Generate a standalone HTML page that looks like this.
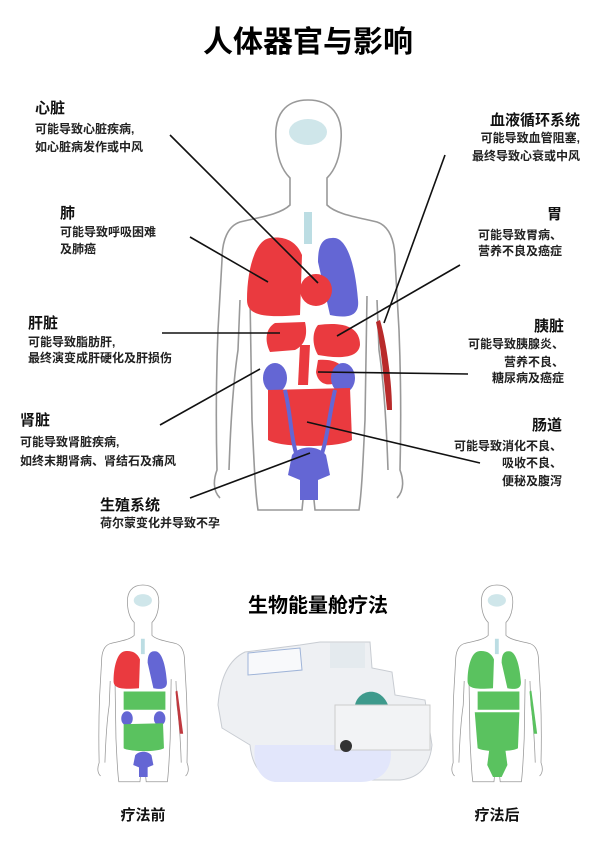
<!DOCTYPE html>
<html><head><meta charset="utf-8"><style>
html,body{margin:0;padding:0;background:#fff;}
svg{display:block;font-family:"Liberation Sans","Noto Sans CJK SC",sans-serif;}
.t{font-size:15px;font-weight:bold;fill:#111;}
.s{font-size:12px;font-weight:bold;fill:#222;}
.ln{stroke:#111;stroke-width:1.6;fill:none;}
</style></head><body>
<svg width="600" height="863" viewBox="0 0 600 863" xmlns="http://www.w3.org/2000/svg">
<defs>
<g id="body">
<path d="M308,100 C285,100 274,115 276,140 C277,158 282,170 290,178 L290,205 C280,215 255,218 240,222 C228,226 222,240 222,260 L218,330 C216,380 216,430 217,470 C214,478 212,490 220,498 M229,470 C230,440 232,390 238,350 L240,300 M250,296 L252,420 C254,460 255,490 258,510 L302,510 L306,470 M308,100 C331,100 343,115 341,140 C340,158 335,170 327,178 L327,205 C337,215 362,218 377,222 C389,226 395,240 395,260 L399,330 C401,380 401,430 400,470 C403,478 405,490 397,498 M388,470 C387,440 385,390 379,350 L377,300 M367,296 L365,420 C363,460 362,490 359,510 L315,510 L311,470" fill="none" stroke="#999" stroke-width="1.6"/>
<ellipse cx="308" cy="132" rx="19" ry="13" fill="#cfe6ea"/>
<rect x="304" y="212" width="8" height="32" fill="#bcdde3"/>
</g>
</defs>
<text x="308" y="52" text-anchor="middle" style="font-size:30px;font-weight:bold;fill:#000">人体器官与影响</text>
<use href="#body"/>
<path d="M270,238 C255,240 247,270 247,300 C247,316 265,318 300,315 L302,255 C296,240 283,236 270,238Z" fill="#ea3a3f"/>
<path d="M332,238 C346,236 355,262 358,300 C360,318 345,318 330,315 L318,262 C318,246 322,238 332,238Z" fill="#6466d4"/>
<circle cx="316" cy="290" r="16" fill="#ea3a3f"/>
<path d="M275,323 L305,322 C308,335 305,345 295,350 L270,352 C264,340 266,328 275,323Z" fill="#ea3a3f"/>
<path d="M318,325 C340,322 360,325 360,345 C358,360 335,358 318,355 C312,345 312,332 318,325Z" fill="#ea3a3f"/>
<path d="M300,345 L310,345 L308,385 L298,385Z" fill="#ea3a3f"/>
<path d="M318,360 C340,358 350,370 340,380 C330,388 318,385 316,372Z" fill="#ea3a3f"/>
<ellipse cx="275" cy="378" rx="12" ry="15" fill="#6466d4"/>
<ellipse cx="343" cy="378" rx="12" ry="15" fill="#6466d4"/>
<path d="M268,390 L350,388 L352,440 C340,448 280,448 268,440Z" fill="#ea3a3f"/>
<path d="M285,390 C292,420 290,440 300,465 M335,390 C328,420 328,440 318,465" stroke="#6466d4" stroke-width="4" fill="none"/>
<path d="M292,455 C300,445 318,445 326,455 L330,475 L318,480 L318,500 L300,500 L300,480 L288,475Z" fill="#6466d4"/>
<path d="M380,320 C386,340 392,380 392,410 L387,410 C384,380 380,340 376,322Z" fill="#b82a2a"/>
<line class="ln" x1="170" y1="135" x2="318" y2="283"/>
<line class="ln" x1="190" y1="237" x2="268" y2="282"/>
<line class="ln" x1="162" y1="333" x2="280" y2="333"/>
<line class="ln" x1="160" y1="425" x2="260" y2="369"/>
<line class="ln" x1="190" y1="498" x2="310" y2="453"/>
<line class="ln" x1="307" y1="422" x2="480" y2="463"/>
<line class="ln" x1="318" y1="372" x2="468" y2="374"/>
<line class="ln" x1="337" y1="336" x2="460" y2="265"/>
<line class="ln" x1="384" y1="323" x2="445" y2="155"/>
<text class="t" x="35" y="113">心脏</text>
<text class="s" x="35" y="133">可能导致心脏疾病,</text>
<text class="s" x="35" y="151">如心脏病发作或中风</text>
<text class="t" x="60" y="218">肺</text>
<text class="s" x="60" y="236">可能导致呼吸困难</text>
<text class="s" x="60" y="253">及肺癌</text>
<text class="t" x="28" y="328">肝脏</text>
<text class="s" x="28" y="346">可能导致脂肪肝,</text>
<text class="s" x="28" y="362">最终演变成肝硬化及肝损伤</text>
<text class="t" x="20" y="425">肾脏</text>
<text class="s" x="20" y="446">可能导致肾脏疾病,</text>
<text class="s" x="20" y="465">如终末期肾病、肾结石及痛风</text>
<text class="t" x="100" y="510">生殖系统</text>
<text class="s" x="100" y="527">荷尔蒙变化并导致不孕</text>
<text class="t" x="580" y="125" text-anchor="end">血液循环系统</text>
<text class="s" x="580" y="142" text-anchor="end">可能导致血管阻塞,</text>
<text class="s" x="580" y="160" text-anchor="end">最终导致心衰或中风</text>
<text class="t" x="562" y="219" text-anchor="end">胃</text>
<text class="s" x="562" y="239" text-anchor="end">可能导致胃病、</text>
<text class="s" x="562" y="255" text-anchor="end">营养不良及癌症</text>
<text class="t" x="564" y="331" text-anchor="end">胰脏</text>
<text class="s" x="564" y="348" text-anchor="end">可能导致胰腺炎、</text>
<text class="s" x="564" y="366" text-anchor="end">营养不良、</text>
<text class="s" x="564" y="382" text-anchor="end">糖尿病及癌症</text>
<text class="t" x="562" y="430" text-anchor="end">肠道</text>
<text class="s" x="562" y="450" text-anchor="end">可能导致消化不良、</text>
<text class="s" x="562" y="467" text-anchor="end">吸收不良、</text>
<text class="s" x="562" y="485" text-anchor="end">便秘及腹泻</text>
<text x="318" y="612" text-anchor="middle" style="font-size:20px;font-weight:bold;fill:#000">生物能量舱疗法</text>
<g transform="translate(-5,537) scale(0.48)">
<use href="#body"/>
<path d="M270,238 C255,240 247,270 247,300 C247,316 265,318 300,315 L302,255 C296,240 283,236 270,238Z" fill="#ea3a3f"/>
<path d="M332,238 C346,236 355,262 358,300 C360,318 345,318 330,315 L318,262 C318,246 322,238 332,238Z" fill="#6466d4"/>
<path d="M268,322 L355,322 L355,360 L268,360Z" fill="#5ac25f"/>
<ellipse cx="275" cy="378" rx="12" ry="15" fill="#6466d4"/><ellipse cx="343" cy="378" rx="12" ry="15" fill="#6466d4"/>
<path d="M268,390 L350,388 L352,440 C340,448 280,448 268,440Z" fill="#5ac25f"/>
<path d="M292,455 C300,445 318,445 326,455 L330,475 L318,480 L318,500 L300,500 L300,480 L288,475Z" fill="#6466d4"/>
<path d="M380,320 L392,410 L385,410 L376,322Z" fill="#c0393f"/>
</g>
<g transform="translate(349,537) scale(0.48)">
<use href="#body"/>
<path d="M270,238 C255,240 247,270 247,300 C247,316 265,318 300,315 L302,255 C296,240 283,236 270,238Z" fill="#5ac25f"/>
<path d="M332,238 C346,236 355,262 358,300 C360,318 345,318 330,315 L318,262 C318,246 322,238 332,238Z" fill="#5ac25f"/>
<path d="M268,322 L355,322 L355,360 L268,360Z" fill="#5ac25f"/>
<path d="M262,365 L355,365 L352,440 C340,448 280,448 268,440Z" fill="#5ac25f"/>
<path d="M292,445 L326,445 L330,475 L318,500 L300,500 L288,475Z" fill="#5ac25f"/>
<path d="M380,320 L392,410 L385,410 L376,322Z" fill="#5ac25f"/>
</g>
<path d="M218,705 C220,680 228,660 245,652 L300,645 L320,642 L370,642 L372,668 L392,672 L395,695 L425,700 L432,745 C430,765 420,778 400,780 L280,780 C260,778 252,765 250,745 L222,728Z" fill="#eef0f3" stroke="#c8ccd2"/>
<path d="M255,745 L390,745 C395,770 380,782 360,782 L275,782 C260,780 252,765 255,745Z" fill="#e2e6fb"/>
<path d="M248,653 L300,648 L302,670 L248,675Z" fill="#f8f9fb" stroke="#9fb4d8"/>
<rect x="330" y="643" width="35" height="25" fill="#e4eaee"/>
<path d="M355,705 C358,690 380,685 388,705 L388,715 L355,715Z" fill="#3e9a8c"/>
<rect x="335" y="705" width="95" height="45" fill="#f2f3f5" stroke="#ccc"/>
<circle cx="346" cy="746" r="6" fill="#333"/>
<text x="143" y="820" text-anchor="middle" style="font-size:15px;font-weight:bold;fill:#111">疗法前</text>
<text x="497" y="820" text-anchor="middle" style="font-size:15px;font-weight:bold;fill:#111">疗法后</text>
</svg>
</body></html>
